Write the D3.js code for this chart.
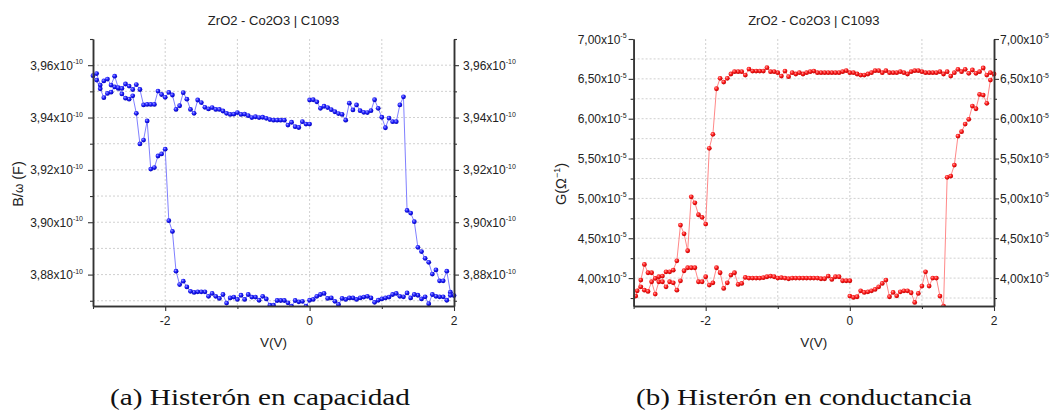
<!DOCTYPE html>
<html><head><meta charset="utf-8">
<script src="https://cdn.jsdelivr.net/npm/d3@7"></script>
<style>
body{margin:0;background:#fff;}
svg text{font-family:"Liberation Sans",Arial,sans-serif;fill:#222;}
</style></head><body>
<svg id="c" width="1052" height="410"></svg>
<script>
// ---------- DATA ----------
const chartTitle = "ZrO2 - Co2O3 | C1093";
const xLabel = "V(V)";
const xTicksMajor = [-2, 0, 2];
const xTicksMinor = [-3, -1, 1];
const capTicksMajor = [3.88, 3.90, 3.92, 3.94, 3.96];
const capTicksMinor = [3.87, 3.89, 3.91, 3.93, 3.95, 3.97];
const condTicksMajor = [4.00, 4.50, 5.00, 5.50, 6.00, 6.50, 7.00];
const condTicksMinor = [3.75, 4.25, 4.75, 5.25, 5.75, 6.25, 6.75];
const captions = ["(a) Histerón en capacidad", "(b) Histerón en conductancia"];

// Capacitance B/ω (x10^-10 F), in sweep order
const capV = [
  0,0.05,0.10,0.15,0.20,0.25,0.30,0.35,0.40,0.45,0.50,0.55,0.60,0.65,0.70,0.75,0.80,0.85,0.90,0.95,1.00,1.05,1.10,1.15,1.20,1.25,1.30,
  1.35,1.40,1.45,1.50,1.55,1.60,1.65,1.70,1.75,1.80,1.85,1.90,1.95,2.00,
  1.95,1.90,1.85,1.80,1.75,1.70,1.65,1.60,1.55,1.50,1.45,1.40,1.35,1.30,1.25,1.20,1.15,1.10,1.05,1.00,0.95,0.90,0.85,0.80,0.75,0.70,0.65,0.60,0.55,0.50,0.45,0.40,0.35,0.30,0.25,0.20,0.15,0.10,0.05,0.00,
  -0.05,-0.10,-0.15,-0.20,-0.25,-0.30,-0.35,-0.40,-0.45,-0.50,-0.55,-0.60,-0.65,-0.70,-0.75,-0.80,-0.85,-0.90,-0.95,-1.00,-1.05,-1.10,-1.15,-1.20,-1.25,-1.30,-1.35,-1.40,-1.45,-1.50,-1.55,-1.60,-1.65,-1.70,-1.75,-1.80,
  -1.85,-1.90,-1.95,-2.00,
  -2.05,-2.10,-2.15,-2.20,-2.25,-2.30,-2.35,-2.40,-2.45,-2.50,-2.55,-2.60,-2.65,-2.70,-2.75,-2.80,-2.85,-2.90,-2.95,-3.00,
  -2.95,-2.90,-2.85,-2.80,-2.75,-2.70,-2.65,-2.60,-2.55,-2.50,-2.45,-2.40,-2.35,-2.30,-2.25,-2.20,-2.15,-2.10,-2.05,-2.00,-1.95,-1.90,-1.85,-1.80,-1.75,-1.70,-1.65,-1.60,-1.55,-1.50,-1.45,-1.40,-1.35,-1.30,-1.25,-1.20,-1.15,-1.10,-1.05,-1.00,-0.95,-0.90,-0.85,-0.80,-0.75,-0.70,-0.65,-0.60,-0.55,-0.50,-0.45,-0.40,-0.35,-0.30,-0.25,-0.20,-0.15,-0.10,-0.05,0.00
];
const capB = [
  3.9467,3.9468,3.9460,3.9435,3.9443,3.9438,3.9430,3.9422,3.9415,3.9412,3.9390,3.9455,3.9429,3.9448,3.9426,3.9420,3.9419,3.9426,3.9468,3.9435,3.9401,3.9361,3.9398,3.9384,3.9384,3.9448,3.9479,
  3.9045,3.9035,3.9002,3.8904,3.8888,3.8862,3.8847,3.8802,3.8818,3.8776,3.8776,3.8813,3.8733,3.8720,
  3.8721,3.8702,3.8715,3.8715,3.8717,3.8724,3.8689,3.8715,3.8707,3.8721,3.8724,3.8711,3.8730,3.8715,3.8717,3.8728,3.8724,3.8714,3.8711,3.8707,3.8702,3.8694,3.8711,3.8717,3.8714,3.8711,3.8705,3.8711,3.8711,3.8705,3.8709,3.8686,3.8698,3.8711,3.8709,3.8728,3.8724,3.8717,3.8705,3.8702,
  3.8679,3.8698,3.8696,3.8701,3.8679,3.8692,3.8701,3.8701,3.8701,3.8683,3.8683,3.8707,3.8717,3.8702,3.8714,3.8714,3.8724,3.8705,3.8721,3.8705,3.8714,3.8711,3.8691,3.8724,3.8709,3.8717,3.8728,3.8717,3.8734,3.8734,3.8734,3.8732,3.8736,3.8753,3.8775,3.8762,
  3.8813,3.8965,3.9006,3.9279,
  3.9261,3.9253,3.9209,3.9203,3.9387,3.9314,3.9299,3.9416,3.9483,3.9470,3.9474,3.9490,3.9511,3.9517,3.9497,3.9492,3.9476,3.9510,3.9543,3.9560,
  3.9568,3.9524,3.9540,3.9547,3.9524,3.9558,3.9514,3.9511,3.9528,3.9520,3.9507,3.9526,3.9507,3.9448,3.9450,3.9450,3.9450,3.9501,3.9488,3.9477,3.9496,3.9486,3.9431,3.9445,3.9495,3.9470,3.9431,3.9416,3.9467,3.9457,3.9439,3.9433,3.9438,3.9431,3.9431,3.9425,3.9416,3.9412,3.9413,3.9419,3.9412,3.9413,3.9407,3.9400,3.9403,3.9400,3.9401,3.9397,3.9392,3.9390,3.9390,3.9390,3.9390,3.9371,3.9382,3.9365,3.9362,3.9384,3.9375,3.9375
];

// Conductance G (x10^-5 Ω^-1), in sweep order
const condV = [
  0.00,0.05,0.10,0.15,0.20,0.25,0.30,0.35,0.40,0.45,0.50,0.55,0.60,0.65,0.70,0.75,0.80,0.85,0.90,0.95,1.00,1.05,1.10,1.15,1.20,1.25,1.30,
  1.35,1.40,1.45,1.50,1.55,1.60,1.65,1.70,1.75,1.80,1.85,1.90,1.95,2.00,
  1.95,1.90,1.85,1.80,1.75,1.70,1.65,1.60,1.55,1.50,1.45,1.40,1.35,1.30,1.25,1.20,1.15,1.10,1.05,1.00,0.95,0.90,0.85,0.80,0.75,0.70,0.65,0.60,0.55,0.50,0.45,0.40,0.35,0.30,0.25,0.20,0.15,0.10,0.05,0.00,
  -0.05,-0.10,-0.15,-0.20,-0.25,-0.30,-0.35,-0.40,-0.45,-0.50,-0.55,-0.60,-0.65,-0.70,-0.75,-0.80,-0.85,-0.90,-0.95,-1.00,-1.05,-1.10,-1.15,-1.20,-1.25,-1.30,-1.35,-1.40,-1.45,-1.50,-1.55,-1.60,-1.65,-1.70,-1.75,-1.80,
  -1.85,-1.90,-1.95,-2.00,-2.05,-2.10,-2.15,-2.20,-2.25,-2.30,-2.35,
  -2.40,-2.45,-2.50,-2.55,-2.60,-2.65,-2.70,-2.75,-2.80,-2.85,-2.90,-2.97,
  -2.95,-2.90,-2.85,-2.80,-2.75,-2.70,-2.65,-2.60,-2.55,-2.50,-2.45,-2.40,-2.35,-2.30,-2.25,-2.20,-2.15,-2.10,-2.05,-2.00,-1.95,-1.90,-1.85,-1.80,-1.75,-1.70,-1.65,-1.60,-1.55,-1.50,
  -1.45,-1.40,-1.35,-1.30,-1.25,-1.20,-1.15,-1.10,-1.05,-1.00,-0.95,-0.90,-0.85,-0.80,-0.75,-0.70,-0.65,-0.60,-0.55,-0.50,-0.45,-0.40,-0.35,-0.30,-0.25,-0.20,-0.15,-0.10,-0.05,0.00
];
const condG = [
  3.774,3.758,3.766,3.841,3.820,3.828,3.841,3.858,3.891,3.933,3.975,3.766,3.820,3.778,3.828,3.841,3.841,3.816,3.695,3.808,3.900,4.079,3.900,4.000,4.000,3.774,3.649,
  5.264,5.280,5.418,5.782,5.837,5.933,5.992,6.159,6.125,6.305,6.297,6.193,6.485,6.561,
  6.577,6.548,6.636,6.590,6.569,6.611,6.569,6.619,6.590,6.619,6.577,6.535,6.590,6.561,6.590,6.577,6.577,6.577,6.577,6.590,6.603,6.603,6.590,6.561,6.577,6.590,6.577,6.577,6.577,6.603,6.577,6.603,6.603,6.577,6.561,6.548,6.548,6.561,6.577,6.577,
  6.603,6.590,6.577,6.577,6.577,6.577,6.577,6.577,6.577,6.598,6.590,6.577,6.561,6.577,6.561,6.577,6.527,6.598,6.535,6.577,6.590,6.590,6.640,6.598,6.598,6.598,6.598,6.623,6.548,6.590,6.590,6.590,6.561,6.506,6.460,6.506,
  6.376,5.804,5.628,4.678,4.762,4.795,4.945,5.020,4.343,4.556,4.665,
  4.217,4.100,4.079,4.079,4.025,4.017,3.996,4.067,4.067,4.172,3.975,3.774,
  3.841,3.891,3.849,3.833,3.954,3.799,3.954,3.954,3.891,3.954,3.941,3.849,3.966,4.092,4.130,4.130,4.130,3.954,3.954,4.017,3.912,3.941,4.130,4.067,3.870,3.941,4.038,4.067,3.921,3.933,
  4.008,4.000,4.000,4.000,4.000,4.005,4.017,4.025,4.017,4.000,4.005,4.000,3.992,4.000,4.000,4.000,4.000,4.000,4.000,4.000,4.000,3.992,3.992,4.025,3.983,4.017,4.017,3.967,3.967,3.967
];

// ---------- DRAW ----------
const svg = d3.select("#c");
const defs = svg.append("defs");
function grad(id, c0, c1, c2){
  const g = defs.append("radialGradient").attr("id", id).attr("cx","38%").attr("cy","35%").attr("r","65%");
  g.append("stop").attr("offset","0%").attr("stop-color",c0);
  g.append("stop").attr("offset","45%").attr("stop-color",c1);
  g.append("stop").attr("offset","100%").attr("stop-color",c2);
}
grad("gBlue", "#a0a0ff", "#2222ff", "#0000b4");
grad("gRed", "#ffa0a0", "#ff2020", "#c00000");

const fmt = d3.format(".2f");

function panel(cfg){
  const g = svg.append("g");
  const x = d3.scaleLinear().domain([-3, 2]).range([cfg.x0, cfg.x1]);
  const y = d3.scaleLinear().domain(cfg.yDomain).range([cfg.y1, cfg.y0]);

  // grid
  const gridX = xTicksMajor.concat(xTicksMinor).filter(v => v > -3 && v < 2);
  g.append("g").selectAll("line").data(gridX).join("line")
    .attr("x1", d => x(d)).attr("x2", d => x(d)).attr("y1", cfg.y0).attr("y2", cfg.y1)
    .attr("stroke", "#c4c4c4").attr("stroke-width", 0.8).attr("stroke-dasharray", "2,2");
  const gridY = cfg.major.concat(cfg.minor).filter(v => y(v) > cfg.y0 + 1 && y(v) < cfg.y1 - 1);
  g.append("g").selectAll("line").data(gridY).join("line")
    .attr("x1", cfg.x0).attr("x2", cfg.x1).attr("y1", d => y(d)).attr("y2", d => y(d))
    .attr("stroke", "#c4c4c4").attr("stroke-width", 0.8).attr("stroke-dasharray", "2,2");

  // data
  const clipId = "clip" + cfg.id;
  defs.append("clipPath").attr("id", clipId).append("rect")
    .attr("x", cfg.x0 - 6).attr("y", cfg.y0).attr("width", cfg.x1 - cfg.x0 + 12).attr("height", cfg.y1 - cfg.y0);
  const pts = cfg.xs.map((v, i) => [v, cfg.ys[i]]);
  const dg = g.append("g").attr("clip-path", `url(#${clipId})`);
  dg.append("path").datum(pts)
    .attr("d", d3.line().x(d => x(d[0])).y(d => y(d[1])))
    .attr("fill", "none").attr("stroke", cfg.lineColor).attr("stroke-width", 0.9);
  dg.append("g").selectAll("circle").data(pts).join("circle")
    .attr("cx", d => x(d[0])).attr("cy", d => y(d[1])).attr("r", 2.4)
    .attr("fill", `url(#${cfg.grad})`);

  // axes
  const axStyle = sel => {
    sel.select(".domain").attr("stroke", "#333").attr("stroke-width", 1.3);
    sel.selectAll(".tick line").attr("stroke", "#333").attr("stroke-width", 1.1);
    sel.selectAll(".tick text").remove();
  };
  const mk = (axisFn, scale, vals, size) => axisFn(scale).tickValues(vals).tickSize(size).tickSizeOuter(0).tickFormat("");
  g.append("g").attr("transform", `translate(${cfg.x0},0)`).call(mk(d3.axisLeft, y, cfg.major, 5)).call(axStyle);
  g.append("g").attr("transform", `translate(${cfg.x0},0)`).call(mk(d3.axisLeft, y, cfg.minor, 3)).call(axStyle);
  g.append("g").attr("transform", `translate(${cfg.x1},0)`).call(mk(d3.axisRight, y, cfg.major, 5)).call(axStyle);
  g.append("g").attr("transform", `translate(${cfg.x1},0)`).call(mk(d3.axisRight, y, cfg.minor, 3)).call(axStyle);
  g.append("g").attr("transform", `translate(0,${cfg.y1})`).call(mk(d3.axisBottom, x, xTicksMajor, 5)).call(axStyle);
  g.append("g").attr("transform", `translate(0,${cfg.y1})`).call(mk(d3.axisBottom, x, xTicksMinor, 3)).call(axStyle);
  g.selectAll(".domain").attr("stroke-width", 1.5);

  // y tick labels (left and right)
  const lab = (sel, anchor) => {
    sel.append("tspan").text(d => fmt(d).replace(".", ",") + "x10");
    sel.append("tspan").attr("dy", -5.5).attr("font-size", 7).text(cfg.exp);
  };
  g.append("g").selectAll("text").data(cfg.major).join("text")
    .attr("x", cfg.x0 - cfg.padL).attr("y", d => y(d) + 4.5).attr("text-anchor", "end")
    .attr("font-size", 12).call(lab);
  g.append("g").selectAll("text").data(cfg.major).join("text")
    .attr("x", cfg.x1 + cfg.padR).attr("y", d => y(d) + 4.5).attr("text-anchor", "start")
    .attr("font-size", 12).call(lab);
  // x tick labels
  g.append("g").selectAll("text").data(xTicksMajor).join("text")
    .attr("x", d => x(d)).attr("y", cfg.y1 + 19).attr("text-anchor", "middle")
    .attr("font-size", 12).text(d => d3.format("d")(d).replace("−", "-"));

  const cx = (cfg.x0 + cfg.x1) / 2;
  g.append("text").attr("x", cx).attr("y", 25).attr("text-anchor", "middle").attr("font-size", 13).text(chartTitle);
  g.append("text").attr("x", cx).attr("y", 347).attr("text-anchor", "middle").attr("font-size", 13.5).text(xLabel);

  const yl = g.append("text").attr("transform", `translate(${cfg.yLabX},184) rotate(-90)`)
    .attr("text-anchor", "middle").attr("font-size", 14.5);
  cfg.yLabel(yl);

  g.append("text").attr("x", cfg.capX).attr("y", 405).attr("text-anchor", "middle")
    .style("font-family", '"Liberation Serif","DejaVu Serif",serif').attr("font-size", 23)
    .attr("textLength", cfg.capW).attr("lengthAdjust", "spacingAndGlyphs")
    .style("fill", "#111").text(cfg.caption);
}

panel({
  id: "a", x0: 93, x1: 454, y0: 39, y1: 306, yDomain: [3.868, 3.970],
  major: capTicksMajor, minor: capTicksMinor, exp: "-10", padL: 10, padR: 9,
  xs: capV, ys: capB, lineColor: "#7272ff", grad: "gBlue",
  yLabX: 23,
  yLabel: t => { t.append("tspan").text("B/"); t.append("tspan").attr("font-size", 12).text("ω"); t.append("tspan").text(" (F)"); },
  caption: captions[0], capX: 260, capW: 300
});
panel({
  id: "b", x0: 633.6, x1: 994, y0: 39, y1: 306, yDomain: [3.65, 7.00],
  major: condTicksMajor, minor: condTicksMinor, exp: "-5", padL: 7, padR: 6,
  xs: condV, ys: condG, lineColor: "#ff7a7a", grad: "gRed",
  yLabX: 566,
  yLabel: t => { t.append("tspan").text("G(Ω"); t.append("tspan").attr("dy", -6).attr("font-size", 9).text("−1"); t.append("tspan").attr("dy", 6).text(")"); },
  caption: captions[1], capX: 804, capW: 336
});
</script>
</body></html>
